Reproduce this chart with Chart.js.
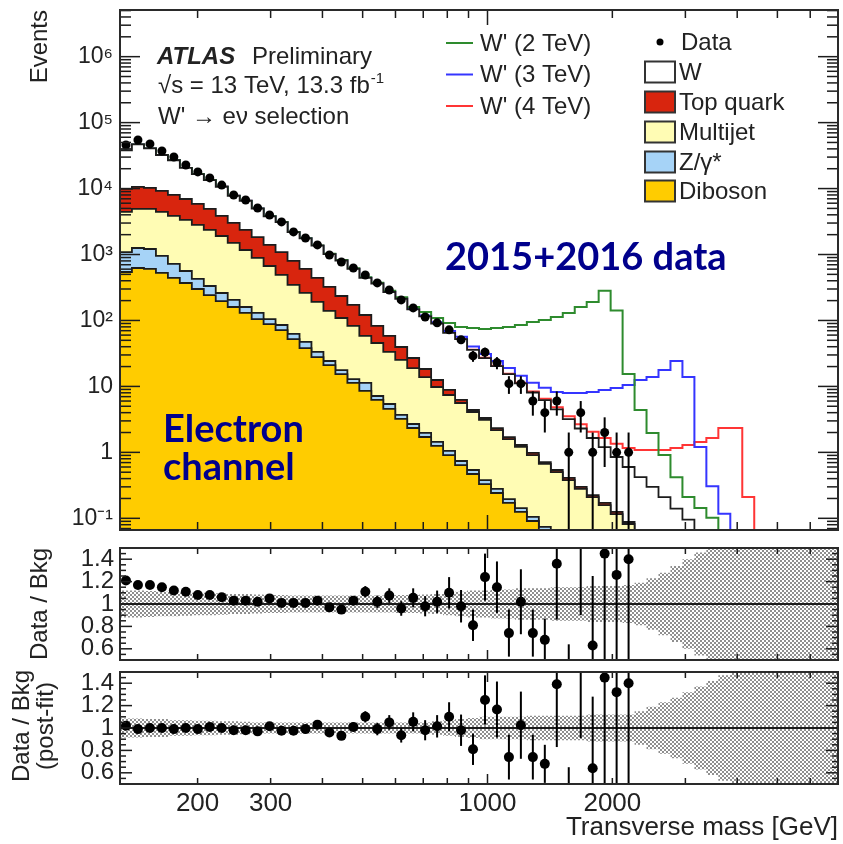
<!DOCTYPE html>
<html><head><meta charset="utf-8">
<script src="https://cdn.jsdelivr.net/npm/chart.js@4.4.0/dist/chart.umd.min.js"></script>
<style>
html,body{margin:0;padding:0;background:#fff;}
#wrap{position:relative;width:843px;height:844px;overflow:hidden;background:#fff;}
canvas{position:absolute;left:0;}
</style></head><body>
<div id="wrap">
<canvas id="cMain" width="843" height="540" style="top:0px"></canvas>
<canvas id="cR1" width="843" height="125" style="top:540px"></canvas>
<canvas id="cR2" width="843" height="179" style="top:665px"></canvas>
</div>
<script>
// ---------------- DATA ----------------
const binEdges = [130, 138.9, 148.5, 158.7, 169.6, 181.2, 193.7, 207.0, 221.2, 236.4, 252.6, 270.0, 288.5, 308.3, 329.5, 352.2, 376.3, 402.2, 429.8, 459.4, 490.9, 524.6, 560.7, 599.2, 640.3, 684.3, 731.3, 781.6, 835.3, 892.6, 953.9, 1019.5, 1089.5, 1164.3, 1244.3, 1329.8, 1421.2, 1518.8, 1623.1, 1734.6, 1853.7, 1981.1, 2117.2, 2262.6, 2418.0, 2584.1, 2761.6, 2951.3, 3154.1, 3370.7, 3602.3, 3849.7, 4114.2, 4396.8, 4698.8, 5021.6, 5366.5, 5735.1, 6129.1, 6550.1, 7000];

const dibosonEvents = [543, 625, 604, 525, 441, 370, 300, 243, 197, 160, 130, 105, 88.3, 71.6, 52.3, 38.2, 27.9, 21.1, 15.4, 11.3, 8.53, 6.23, 4.55, 3.21, 2.34, 1.71, 1.25, 0.91, 0.64, 0.47, 0.33, 0.242, 0.171, 0.125, 0.091, 0.064, 0.045, 0.032, 0.023, 0.016, 0.011, 0.008, 0.006, 0.004, 0.003, 0.002, 0.0015, 0.001, 0.0007, 0.0005, 0.0004, 0.0003, 0.0002, 0.0002, 0.0001, 0.0001, 0.0001, 0.0001, 0.0001, 0.0001];
const zgammaEvents = [547, 631, 609, 426, 278, 192, 126, 90, 64, 45, 30, 25, 16.7, 13.7, 10.1, 9.0, 5.4, 3.2, 2.3, 1.6, 2.77, 0.93, 0.86, 0.48, 0.35, 0.26, 0.19, 0.14, 0.10, 0.07, 0.05, 0.037, 0.025, 0.018, 0.014, 0.010, 0.009, 0.006, 0.004, 0.003, 0.002, 0.001, 0.001, 0.001, 0.001, 0.0005, 0.0004, 0.0003, 0.0002, 0.0001, 0.0001, 0.0001, 0.0001, 0.0001, 0.0001, 0.0001, 0.0001, 0.0001, 0.0001, 0.0001];
const multijetEvents = [3330, 3654, 3697, 3469, 3131, 2778, 2384, 2027, 1649, 1295, 1010, 757, 565, 405, 283, 214, 158, 115, 91.3, 69.7, 46.9, 38.4, 27.9, 21.5, 16.3, 11.9, 8.36, 6.36, 4.86, 3.55, 2.72, 1.90, 1.39, 1.07, 0.805, 0.596, 0.446, 0.342, 0.253, 0.191, 0.146, 0.107, 0.075, 0.053, 0.036, 0.025, 0.018, 0.013, 0.009, 0.006, 0.004, 0.003, 0.002, 0.0015, 0.001, 0.001, 0.0007, 0.0005, 0.0004, 0.0003];
const topEvents = [5440, 5670, 5300, 4780, 4150, 3610, 3030, 2550, 1940, 1510, 1190, 953, 730, 600, 453, 343, 250, 183, 126, 89.4, 62.8, 37.0, 24.9, 14.4, 8.0, 4.5, 2.7, 1.43, 0.63, 0.30, 0.22, 0.16, 0.12, 0.08, 0.07, 0.04, 0.04, 0.03, 0.02, 0.015, 0.012, 0.009, 0.006, 0.004, 0.003, 0.002, 0.001, 0.001, 0.001, 0.0005, 0.0004, 0.0003, 0.0002, 0.0002, 0.0001, 0.0001, 0.0001, 0.0001, 0.0001, 0.0001];
const wEvents = [27990, 36090, 30390, 23060, 18880, 13590, 10730, 8520, 6810, 4760, 4160, 3140, 2390, 2000, 1382, 1156, 919, 693, 577, 435, 320, 281, 212, 174, 120, 96.6, 77.5, 56.2, 45.8, 31.3, 23.6, 18.0, 13.6, 9.8, 7.1, 5.5, 3.96, 2.79, 2.0, 1.425, 1.03, 0.725, 0.512, 0.358, 0.257, 0.18, 0.119, 0.08, 0.039, 0.025, 0.016, 0.011, 0.008, 0.006, 0.004, 0.003, 0.002, 0.0015, 0.001, 0.0008];

// W' signal contributions (drawn stacked on the total background)
const wprime2Signal = [12, 12, 12, 11, 11, 11, 11, 11, 10, 10, 10, 10, 10, 10, 11, 11, 11, 11, 11, 11, 11, 11, 11, 11, 13, 19, 19, 26.5, 27.6, 41.2, 47.4, 56.6, 64.3, 74.4, 86.7, 95.4, 108.5, 126.8, 157.7, 189.4, 281.8, 140.2, 14.8, 3.96, 1.67, 0.7, 0.28, 0.115, 0.094, 0.07, 0.01, 0.005, 0.003, 0.002, 0.001, 0.001, 0.001, 0.001, 0.001, 0.001];
const wprime3Signal = [3, 3, 3, 3, 3, 3, 3, 3, 3, 3, 3, 3, 3, 3, 3, 3, 3, 3, 3, 3, 3.2, 3.3, 3.4, 3.5, 3.6, 3.8, 4.0, 4.2, 4.4, 4.5, 4.2, 4.0, 3.7, 3.4, 3.3, 3.3, 3.73, 4.74, 5.64, 6.58, 7.63, 8.61, 9.9, 12.1, 13.6, 17.5, 24.2, 13.8, 1.16, 0.275, 0.096, 0.01, 0.005, 0.003, 0.002, 0.001, 0.001, 0.001, 0.001, 0.001];
const wprime4Signal = [0.3, 0.3, 0.3, 0.3, 0.3, 0.3, 0.3, 0.3, 0.3, 0.3, 0.3, 0.3, 0.3, 0.3, 0.3, 0.3, 0.3, 0.3, 0.3, 0.3, 0.3, 0.3, 0.3, 0.3, 0.3, 0.3, 0.3, 0.3, 0.3, 0.3, 0.3, 0.3, 0.3, 0.3, 0.3, 0.3, 0.32, 0.34, 0.37, 0.4, 0.45, 0.5, 0.56, 0.67, 0.79, 0.88, 1.02, 1.195, 1.39, 1.625, 2.32, 2.33, 0.2, 0.005, 0.002, 0.002, 0.001, 0.001, 0.001, 0.001];

// Data (events per bin) and statistical errors, bins 0..42
const dataEvents = [45800, 54600, 47500, 37100, 30100, 22800, 17900, 14500, 11300, 8000, 6720, 5080, 3980, 3120, 2200, 1780, 1400, 985, 771, 625, 490, 371, 290, 205, 155, 113, 92, 72, 51, 29, 33, 23, 11, 11, 6, 4, 6, 1, 4, 1, 2, 1, 1];
const dataErr = [214, 234, 218, 193, 173, 151, 134, 120, 106, 89, 82, 71, 63, 56, 47, 42, 37, 31, 28, 25, 22, 19, 17, 14, 12.4, 10.6, 9.6, 8.5, 7.1, 5.4, 5.7, 4.8, 3.3, 3.3, 2.4, 2.0, 2.4, 1.0, 2.0, 1.0, 1.4, 1.0, 1.0];

// Ratio panels
const ratioPrefit = [1.21, 1.17, 1.17, 1.15, 1.12, 1.11, 1.08, 1.08, 1.06, 1.03, 1.03, 1.02, 1.05, 1.01, 1.01, 1.01, 1.03, 0.97, 0.95, 1.03, 1.11, 1.02, 1.075, 0.96, 1.055, 0.98, 1.02, 1.10, 0.98, 0.81, 1.24, 1.15, 0.74, 1.02, 0.74, 0.68, 1.36, 0.30, 1.55, 0.63, 1.45, 1.26, 1.40];
const ratioPrefitErr = [0.006, 0.006, 0.006, 0.006, 0.007, 0.007, 0.008, 0.009, 0.01, 0.012, 0.013, 0.014, 0.016, 0.018, 0.022, 0.024, 0.027, 0.031, 0.034, 0.04, 0.05, 0.055, 0.065, 0.065, 0.085, 0.09, 0.1, 0.14, 0.145, 0.14, 0.21, 0.23, 0.21, 0.29, 0.21, 0.19, 0.5, 0.34, 0.65, 0.62, 1.1, 1.26, 1.4];
const ratioPostfit = [1.02, 0.99, 1.0, 1.0, 0.99, 1.0, 0.99, 1.01, 1.0, 0.98, 0.98, 0.97, 1.015, 0.975, 0.975, 0.99, 1.03, 0.96, 0.93, 1.01, 1.10, 0.99, 1.05, 0.935, 1.055, 0.98, 1.015, 1.10, 0.98, 0.81, 1.25, 1.165, 0.74, 1.025, 0.74, 0.68, 1.39, 0.30, 1.58, 0.64, 1.45, 1.32, 1.40];
const ratioPostfitErr = [0.006, 0.006, 0.006, 0.006, 0.007, 0.007, 0.008, 0.009, 0.01, 0.012, 0.013, 0.014, 0.016, 0.018, 0.022, 0.024, 0.027, 0.031, 0.034, 0.04, 0.05, 0.055, 0.065, 0.065, 0.085, 0.09, 0.1, 0.13, 0.14, 0.14, 0.22, 0.25, 0.2, 0.3, 0.2, 0.17, 0.56, 0.35, 0.67, 0.64, 1.1, 1.32, 1.4];
// systematic band half-widths
const bandPrefit = [0.12, 0.12, 0.115, 0.11, 0.11, 0.105, 0.10, 0.10, 0.095, 0.09, 0.09, 0.085, 0.08, 0.08, 0.075, 0.075, 0.075, 0.075, 0.075, 0.075, 0.075, 0.075, 0.075, 0.08, 0.08, 0.085, 0.09, 0.10, 0.11, 0.12, 0.12, 0.13, 0.13, 0.14, 0.14, 0.14, 0.15, 0.15, 0.15, 0.16, 0.16, 0.16, 0.17, 0.19, 0.23, 0.28, 0.34, 0.40, 0.46, 0.53, 0.6, 0.6, 0.6, 0.6, 0.6, 0.6, 0.6, 0.6, 0.6, 0.6];
const bandPostfit = [0.085, 0.085, 0.08, 0.08, 0.07, 0.07, 0.065, 0.065, 0.06, 0.06, 0.055, 0.05, 0.05, 0.05, 0.05, 0.05, 0.05, 0.05, 0.05, 0.05, 0.05, 0.05, 0.05, 0.05, 0.05, 0.05, 0.06, 0.07, 0.08, 0.09, 0.1, 0.1, 0.1, 0.1, 0.11, 0.11, 0.11, 0.11, 0.11, 0.12, 0.12, 0.12, 0.12, 0.15, 0.19, 0.23, 0.27, 0.32, 0.37, 0.42, 0.47, 0.52, 0.6, 0.6, 0.6, 0.6, 0.6, 0.6, 0.6, 0.6];

// Axis ticks
const xTickLabels = [200, 300, 1000, 2000];
const xMinorTicks = [200, 300, 400, 500, 600, 700, 800, 900, 2000, 3000, 4000, 5000, 6000];
const xMajorTicks = [1000];
const yTickValues = [0.1, 1, 10, 100, 1000, 1e4, 1e5, 1e6];
const ratioTicks = [0.6, 0.8, 1, 1.2, 1.4];

// ---------------- STYLE ----------------
const X_MIN = 130, X_MAX = 7000, Y_MIN = 0.0665, Y_MAX = 5.1e6;
const FONT = '"Liberation Sans", Arial, Helvetica, sans-serif';
const BFONT = 'Lato, "Open Sans", sans-serif';
const INK = '#1c1c1c';
const COL = { dib: '#ffcc00', z: '#a6d3f7', mj: '#fffcb4', top: '#d8250e', g: '#2e8b2e', b: '#3535ff', r: '#ff3535' };

// ---------------- HELPERS ----------------
const nBins = binEdges.length - 1;
const centers = binEdges.slice(0, -1).map((e, i) => Math.sqrt(e * binEdges[i + 1]));
function sumOf(...arrs) { return arrs[0].map((_, i) => arrs.reduce((s, a) => s + a[i], 0)); }
const cumDib = sumOf(dibosonEvents);
const cumZ = sumOf(dibosonEvents, zgammaEvents);
const cumMJ = sumOf(dibosonEvents, zgammaEvents, multijetEvents);
const cumTop = sumOf(dibosonEvents, zgammaEvents, multijetEvents, topEvents);
const cumW = sumOf(dibosonEvents, zgammaEvents, multijetEvents, topEvents, wEvents);
function histPoints(vals) {
  const pts = vals.map((v, i) => ({ x: binEdges[i], y: v }));
  pts.push({ x: binEdges[nBins], y: vals[vals.length - 1] });
  return pts;
}
function hist(label, vals, fillCol, order, lineCol, lw) {
  return { label, data: histPoints(vals), stepped: 'before', fill: fillCol ? 'origin' : false,
    backgroundColor: fillCol || 'rgba(0,0,0,0)', borderColor: lineCol || INK, borderWidth: lw || 1.8,
    pointRadius: 0, pointHoverRadius: 0, order, tension: 0, borderJoinStyle: 'miter' };
}
const supMap = { '-': '\u207B', '0': '\u2070', '1': '\u00B9', '2': '\u00B2', '3': '\u00B3', '4': '\u2074', '5': '\u2075', '6': '\u2076', '7': '\u2077', '8': '\u2078', '9': '\u2079' };
function powLabel(v) {
  const e = Math.round(Math.log10(v));
  if (e === 0) return '1';
  if (e === 1) return '10';
  return '10' + String(e).split('').map(c => supMap[c]).join('');
}
function line(ctx, x1, y1, x2, y2) { ctx.beginPath(); ctx.moveTo(x1, y1); ctx.lineTo(x2, y2); ctx.stroke(); }

function framePlugin(spec) {
  return { id: 'frame', afterDatasetsDraw(chart) {
    const { ctx, chartArea: a, scales } = chart;
    const xs = scales.x, ys = scales.y;
    ctx.save();
    ctx.strokeStyle = INK; ctx.lineWidth = 1.5;
    const xt = xMinorTicks.map(v => [v, spec.xMinor]).concat(xMajorTicks.map(v => [v, spec.xMajor]));
    xt.forEach(([v, L]) => { const p = xs.getPixelForValue(v); line(ctx, p, a.bottom, p, a.bottom - L); line(ctx, p, a.top, p, a.top + L); });
    spec.yTicks.forEach(([v, L]) => { const p = ys.getPixelForValue(v); line(ctx, a.left, p, a.left + L, p); line(ctx, a.right, p, a.right - L, p); });
    ctx.lineWidth = 2; ctx.strokeStyle = '#2a2a2a';
    ctx.strokeRect(a.left, a.top, a.right - a.left, a.bottom - a.top);
    ctx.restore();
  } };
}
function errPlugin(xv, yv, ev) {
  return { id: 'errbars', afterDatasetsDraw(chart) {
    const { ctx, chartArea: a, scales } = chart;
    ctx.save();
    ctx.beginPath(); ctx.rect(a.left, a.top, a.right - a.left, a.bottom - a.top); ctx.clip();
    ctx.strokeStyle = '#000'; ctx.lineWidth = 2;
    yv.forEach((v, i) => {
      const px = scales.x.getPixelForValue(xv[i]);
      const lo = v - ev[i], hi = v + ev[i];
      const pLo = lo > 0 ? scales.y.getPixelForValue(lo) : a.bottom + 5;
      const pHi = scales.y.getPixelForValue(hi);
      line(ctx, px, pLo, px, pHi);
    });
    ctx.restore();
  } };
}
function hatchPattern(canvas) {
  const t = document.createElement('canvas'); t.width = 4; t.height = 4;
  const g = t.getContext('2d');
  g.fillStyle = '#8f8f8f'; g.fillRect(0, 0, 2, 2); g.fillRect(2, 2, 2, 2);
  return canvas.getContext('2d').createPattern(t, 'repeat');
}
function yAxisCommon(width) {
  return { afterFit(s) { s.width = width; s.paddingTop = 0; s.paddingBottom = 0; },
    grid: { display: false, drawTicks: false }, border: { display: false } };
}

// ---------------- MAIN PANEL ----------------
const yMinorMain = [];
for (let n = -2; n <= 6; n++) for (let k = 2; k <= 9; k++) { const v = k * Math.pow(10, n); if (v > Y_MIN && v < Y_MAX) yMinorMain.push([v, 11]); }
const mainYTicks = yTickValues.map(v => [v, 20]).concat(yMinorMain);

const textPlugin = { id: 'texts', afterDraw(chart) {
  const ctx = chart.ctx;
  ctx.save();
  ctx.fillStyle = '#222';
  ctx.save(); ctx.translate(40, 10); ctx.rotate(-Math.PI / 2);
  ctx.font = '24px ' + FONT; ctx.textAlign = 'right'; ctx.textBaseline = 'middle';
  ctx.fillText('Events', 0, 0); ctx.restore();
  ctx.textAlign = 'left'; ctx.textBaseline = 'alphabetic';
  ctx.font = 'italic bold 24px ' + FONT; ctx.fillText('ATLAS', 157, 63.5);
  ctx.font = '24px ' + FONT; ctx.fillText('Preliminary', 252, 63.5);
  const s1 = '\u221As = 13 TeV, 13.3 fb';
  ctx.fillText(s1, 158, 93);
  const w1 = ctx.measureText(s1).width;
  ctx.font = '15px ' + FONT; ctx.fillText('-1', 158 + w1 + 1, 83);
  ctx.font = '24px ' + FONT; ctx.fillText('W\' \u2192 e\u03BD selection', 158, 123.5);
  ctx.textBaseline = 'middle';
  [["W' (2 TeV)", COL.g, 43], ["W' (3 TeV)", COL.b, 74.5], ["W' (4 TeV)", COL.r, 106]].forEach(([t, c, y]) => {
    ctx.strokeStyle = c; ctx.lineWidth = 2; line(ctx, 446, y, 473, y);
    ctx.fillStyle = '#222'; ctx.fillText(t, 480, y + 1);
  });
  ctx.fillStyle = '#000'; ctx.beginPath(); ctx.arc(660, 42, 3.5, 0, Math.PI * 2); ctx.fill();
  ctx.fillStyle = '#222'; ctx.fillText('Data', 681, 43);
  [['W', '#ffffff', 72], ['Top quark', COL.top, 102], ['Multijet', COL.mj, 132], ['Z/\u03B3*', COL.z, 162], ['Diboson', COL.dib, 191]].forEach(([t, c, y]) => {
    ctx.fillStyle = c; ctx.fillRect(645, y - 10.5, 30, 21);
    ctx.strokeStyle = '#333'; ctx.lineWidth = 2; ctx.strokeRect(645, y - 10.5, 30, 21);
    ctx.fillStyle = '#222'; ctx.fillText(t, 679, y + 1);
  });
  ctx.fillStyle = '#00008c'; ctx.textBaseline = 'alphabetic'; ctx.textAlign = 'left';
  ctx.font = 'bold 38px ' + BFONT;
  ctx.fillText('2015+2016 data', 445, 270);
  ctx.fillText('Electron', 163, 442);
  ctx.fillText('channel', 163, 480);
  ctx.restore();
} };

new Chart(document.getElementById('cMain'), {
  type: 'line',
  data: { datasets: [
    { label: 'Data', data: dataEvents.map((v, i) => ({ x: centers[i], y: v })), showLine: false, pointRadius: 4.5,
      pointBackgroundColor: '#000', pointBorderColor: '#000', pointBorderWidth: 0, order: 0 },
    hist('Diboson', cumDib, COL.dib, 1),
    hist('Z/\u03B3*', cumZ, COL.z, 2),
    hist('Multijet', cumMJ, COL.mj, 3),
    hist('Top quark', cumTop, COL.top, 4),
    hist('W', cumW, '#ffffff', 5),
    hist("W' (2 TeV)", sumOf(cumW, wprime2Signal), null, 6, COL.g, 2),
    hist("W' (3 TeV)", sumOf(cumW, wprime3Signal), null, 7, COL.b, 2),
    hist("W' (4 TeV)", sumOf(cumW, wprime4Signal), null, 8, COL.r, 2)
  ] },
  options: {
    responsive: false, animation: false, events: [], devicePixelRatio: 1,
    layout: { padding: { top: 10, right: 5, bottom: 10, left: 0 } },
    plugins: { legend: { display: false }, tooltip: { enabled: false } },
    scales: {
      x: { type: 'logarithmic', min: X_MIN, max: X_MAX, display: false },
      y: Object.assign(yAxisCommon(120), { type: 'logarithmic', min: Y_MIN, max: Y_MAX,
        afterBuildTicks(s) { s.ticks = yTickValues.map(v => ({ value: v })); },
        ticks: { callback: v => powLabel(v), font: { family: FONT, size: 23 }, color: '#222', padding: 7, autoSkip: false, maxRotation: 0 } })
    }
  },
  plugins: [errPlugin(centers, dataEvents, dataErr), framePlugin({ xMajor: 15, xMinor: 8, yTicks: mainYTicks }), textPlugin]
});

// ---------------- RATIO PANELS ----------------
const ratioYMinor = [];
for (let v = 0.55; v < 1.5; v += 0.05) { const r = Math.round(v * 100) / 100; if (!ratioTicks.some(t => Math.abs(t - r) < 1e-6)) ratioYMinor.push([r, 6]); }
const ratioYTicks = ratioTicks.map(v => [v, 12]).concat(ratioYMinor);

function ratioChart(id, vals, errs, band, padTop, padBottom, showX, extraPlugin) {
  const cv = document.getElementById(id);
  const pat = hatchPattern(cv);
  const xAxis = showX ? {
    type: 'logarithmic', min: X_MIN, max: X_MAX, position: 'bottom',
    afterFit(s) { s.height = 60; s.paddingLeft = 0; s.paddingRight = 0; },
    afterBuildTicks(s) { s.ticks = xTickLabels.map(v => ({ value: v })); },
    ticks: { callback: v => String(v), font: { family: FONT, size: 26 }, color: '#222', padding: 4, autoSkip: false, maxRotation: 0, minRotation: 0 },
    grid: { display: false, drawTicks: false }, border: { display: false }
  } : { type: 'logarithmic', min: X_MIN, max: X_MAX, display: false };
  return new Chart(cv, {
    type: 'line',
    data: { datasets: [
      { label: 'ratio', data: vals.map((v, i) => ({ x: centers[i], y: v })), showLine: false, pointRadius: 5,
        pointBackgroundColor: '#000', pointBorderColor: '#000', pointBorderWidth: 0, order: 0 },
      { label: 'unity', data: [{ x: X_MIN, y: 1 }, { x: X_MAX, y: 1 }], borderColor: INK, borderWidth: 2, pointRadius: 0, fill: false, order: 1 },
      { label: 'bandUp', data: histPoints(band.map(w => 1 + w)), stepped: 'before', borderWidth: 0, borderColor: 'rgba(0,0,0,0)',
        backgroundColor: pat, fill: '+1', pointRadius: 0, order: 2 },
      { label: 'bandDown', data: histPoints(band.map(w => 1 - w)), stepped: 'before', borderWidth: 0, borderColor: 'rgba(0,0,0,0)',
        fill: false, pointRadius: 0, order: 3 }
    ] },
    options: {
      responsive: false, animation: false, events: [], devicePixelRatio: 1,
      layout: { padding: { top: padTop, right: 5, bottom: padBottom, left: 0 } },
      plugins: { legend: { display: false }, tooltip: { enabled: false } },
      scales: {
        x: xAxis,
        y: Object.assign(yAxisCommon(120), { type: 'linear', min: 0.5, max: 1.5,
          afterBuildTicks(s) { s.ticks = ratioTicks.map(v => ({ value: v })); },
          ticks: { callback: v => (v === 1 ? '1' : v.toFixed(1)), font: { family: FONT, size: 24 }, color: '#222', padding: 6, autoSkip: false } })
      }
    },
    plugins: [errPlugin(centers, vals, errs), framePlugin({ xMajor: 10, xMinor: 6, yTicks: ratioYTicks }), extraPlugin]
  });
}

const r1Text = { id: 'r1text', afterDraw(chart) {
  const ctx = chart.ctx; ctx.save(); ctx.fillStyle = '#222';
  ctx.translate(40, 64); ctx.rotate(-Math.PI / 2);
  ctx.font = '24px ' + FONT; ctx.textAlign = 'center'; ctx.textBaseline = 'middle';
  ctx.fillText('Data / Bkg', 0, 0); ctx.restore();
} };
const r2Text = { id: 'r2text', afterDraw(chart) {
  const ctx = chart.ctx; ctx.save(); ctx.fillStyle = '#222';
  ctx.save(); ctx.translate(22, 61); ctx.rotate(-Math.PI / 2);
  ctx.font = '24px ' + FONT; ctx.textAlign = 'center'; ctx.textBaseline = 'middle';
  ctx.fillText('Data / Bkg', 0, 0); ctx.fillText('(post-fit)', 0, 24); ctx.restore();
  ctx.font = '26px ' + FONT; ctx.textAlign = 'right'; ctx.textBaseline = 'alphabetic';
  ctx.fillText('Transverse mass [GeV]', 838, 170);
  ctx.restore();
} };

ratioChart('cR1', ratioPrefit, ratioPrefitErr, bandPrefit, 8, 3, false, r1Text);
ratioChart('cR2', ratioPostfit, ratioPostfitErr, bandPostfit, 7, 0, true, r2Text);
</script>
</body></html>
